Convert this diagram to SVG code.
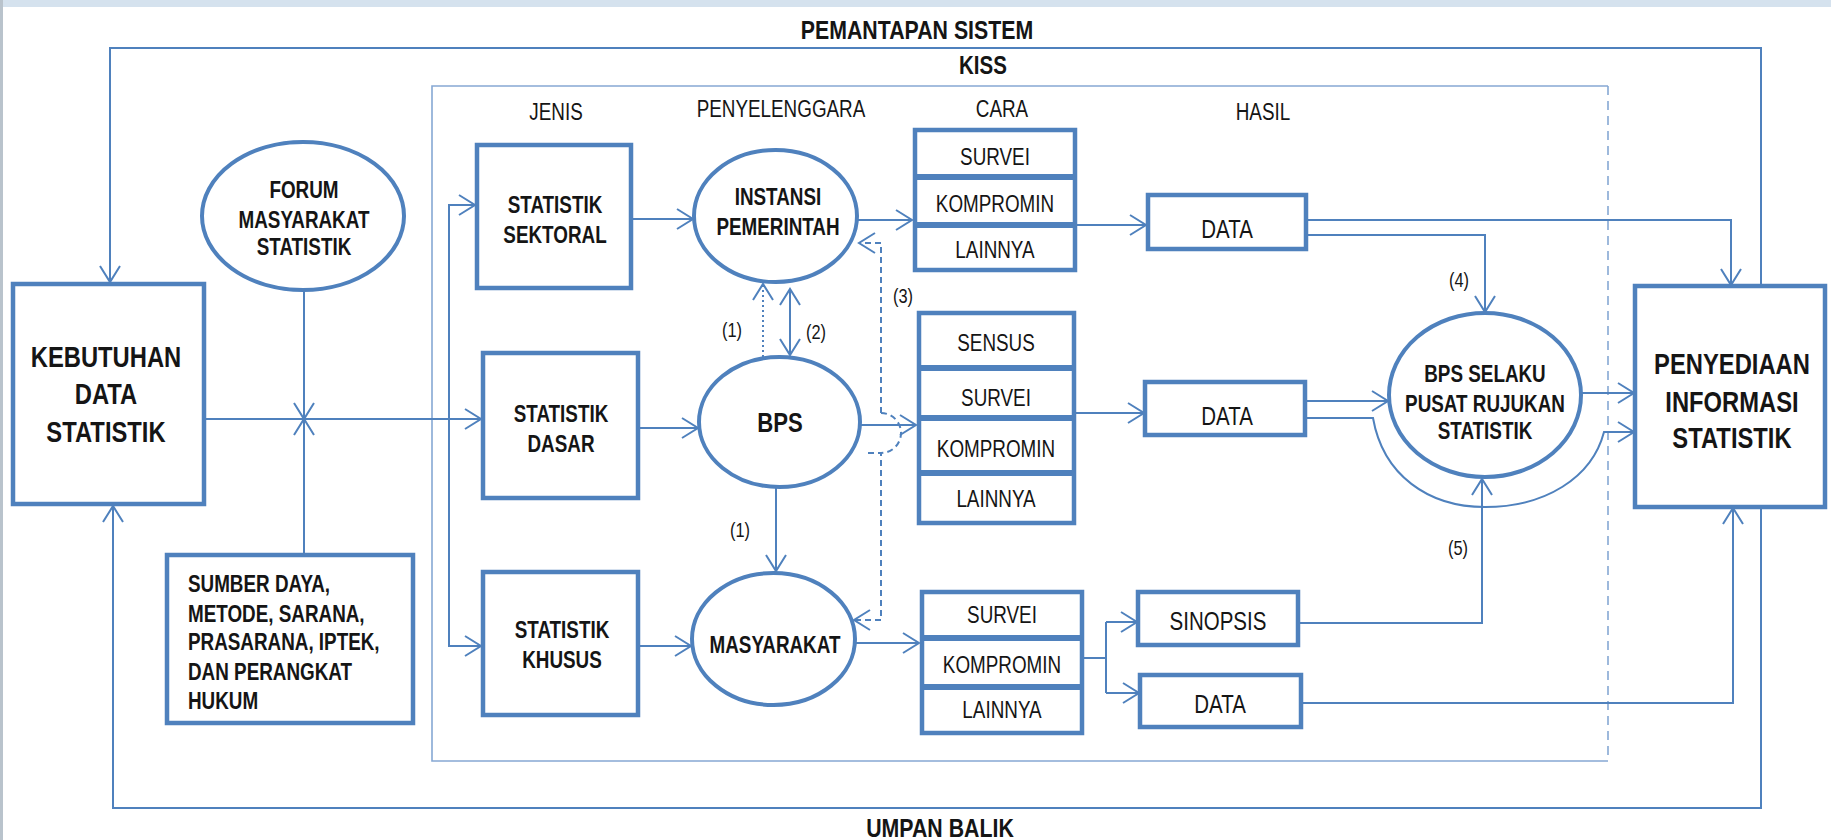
<svg xmlns="http://www.w3.org/2000/svg" width="1831" height="840" viewBox="0 0 1831 840">
<style>
.bx{fill:#fff;stroke:#4F81BD;stroke-width:4.5}
.el{fill:#fff;stroke:#4F81BD;stroke-width:4}
.dv{stroke:#4F81BD;stroke-width:6}
.ln{fill:none;stroke:#4F81BD;stroke-width:2}
.fr{fill:none;stroke:#86A8D4;stroke-width:1.6}
.dash{fill:none;stroke:#4F81BD;stroke-width:2;stroke-dasharray:6,4}
.dot{fill:none;stroke:#4F81BD;stroke-width:2;stroke-dasharray:2,3}
text{font-family:"Liberation Sans",Arial,sans-serif;fill:#151515;transform-box:fill-box;transform-origin:center;transform:scaleX(0.82)}
.b{font-weight:bold}
.c{text-anchor:middle}
.l{transform-origin:left center}
</style>
<defs>
<marker id="arr" markerUnits="userSpaceOnUse" markerWidth="22" markerHeight="24" refX="18" refY="12" orient="auto">
<path d="M2,2 L18,12 L2,22" fill="none" stroke="#4F81BD" stroke-width="2"/>
</marker>
<marker id="arr2" markerUnits="userSpaceOnUse" markerWidth="22" markerHeight="24" refX="18" refY="12" orient="auto-start-reverse">
<path d="M2,2 L18,12 L2,22" fill="none" stroke="#4F81BD" stroke-width="2"/>
</marker>
</defs>
<rect x="0" y="0" width="1831" height="840" fill="#fff"/>
<rect x="0" y="0" width="1831" height="7" fill="#D5E2EE"/>
<rect x="0" y="0" width="3" height="840" fill="#B9C3CC"/>

<g id="frame">
<path class="fr" d="M1608,86 L432,86 L432,761 L1608,761"/>
<path class="fr" d="M1608,86 L1608,761" stroke-dasharray="9,6"/>
</g>

<g id="titles">
<text class="b c" x="917" y="39" font-size="26">PEMANTAPAN SISTEM</text>
<text class="b c" x="983" y="74" font-size="25">KISS</text>
<text class="b c" x="940" y="837" font-size="26">UMPAN BALIK</text>
<text class="c" x="556" y="120" font-size="23">JENIS</text>
<text class="c" x="781" y="117" font-size="23">PENYELENGGARA</text>
<text class="c" x="1002" y="117" font-size="23">CARA</text>
<text class="c" x="1263" y="120" font-size="23">HASIL</text>
</g>

<g id="connectors">
<path class="ln" d="M1761,286 L1761,48 L110,48 L110,282" marker-end="url(#arr)"/>
<path class="ln" d="M1761,507 L1761,808 L113,808 L113,506" marker-end="url(#arr)"/>
<path class="ln" d="M304,290 L304,419" marker-end="url(#arr)"/>
<path class="ln" d="M304,555 L304,419" marker-end="url(#arr)"/>
<path class="ln" d="M204,419 L481,419" marker-end="url(#arr)"/>
<path class="ln" d="M449,419 L449,205 L475,205" marker-end="url(#arr)"/>
<path class="ln" d="M449,419 L449,646 L481,646" marker-end="url(#arr)"/>
<path class="ln" d="M631,219 L693,219" marker-end="url(#arr)"/>
<path class="ln" d="M638,428 L698,428" marker-end="url(#arr)"/>
<path class="ln" d="M638,646 L691,646" marker-end="url(#arr)"/>
<path class="ln" d="M857,220 L912,220" marker-end="url(#arr)"/>
<path class="ln" d="M860,425 L916,425" marker-end="url(#arr)"/>
<path class="ln" d="M855,643 L919,643" marker-end="url(#arr)"/>
<path class="dot" d="M763,357 L763,284" marker-end="url(#arr)"/>
<path class="ln" d="M790,289 L790,355" marker-start="url(#arr2)" marker-end="url(#arr2)"/>
<path class="ln" d="M776,488 L776,571" marker-end="url(#arr)"/>
<path class="dash" d="M881,413 L881,243 L859,243" marker-end="url(#arr)"/>
<path class="dash" d="M881,413 A20,20 0 0 1 881,453"/>
<path class="dash" d="M868,453 L881,453 L881,620 L854,620" marker-end="url(#arr)"/>
<path class="ln" d="M1075,225 L1146,225" marker-end="url(#arr)"/>
<path class="ln" d="M1074,413 L1144,413" marker-end="url(#arr)"/>
<path class="ln" d="M1082,658 L1106,658 M1106,622 L1106,693"/>
<path class="ln" d="M1106,622 L1137,622" marker-end="url(#arr)"/>
<path class="ln" d="M1106,693 L1139,693" marker-end="url(#arr)"/>
<path class="ln" d="M1306,220 L1731,220 L1731,285" marker-end="url(#arr)"/>
<path class="ln" d="M1306,235 L1485,235 L1485,312" marker-end="url(#arr)"/>
<path class="ln" d="M1305,401 L1388,401" marker-end="url(#arr)"/>
<path class="ln" d="M1305,418 L1373,418 C1383,475 1428,507 1485,507 C1545,507 1592,478 1604,432 L1634,432" marker-end="url(#arr)"/>
<path class="ln" d="M1582,393 L1634,393" marker-end="url(#arr)"/>
<path class="ln" d="M1298,623 L1482,623 L1482,479" marker-end="url(#arr)"/>
<path class="ln" d="M1301,703 L1733,703 L1733,508" marker-end="url(#arr)"/>
</g>

<g id="labels">
<text class="c" x="732" y="337" font-size="20">(1)</text>
<text class="c" x="816" y="339" font-size="20">(2)</text>
<text class="c" x="903" y="303" font-size="20">(3)</text>
<text class="c" x="740" y="537" font-size="20">(1)</text>
<text class="c" x="1459" y="287" font-size="20">(4)</text>
<text class="c" x="1458" y="555" font-size="20">(5)</text>
</g>

<g id="kebutuhan">
<rect class="bx" x="13" y="284" width="191" height="220"/>
<text class="b c" x="106" y="367" font-size="29">KEBUTUHAN</text>
<text class="b c" x="106" y="404" font-size="29">DATA</text>
<text class="b c" x="106" y="442" font-size="29">STATISTIK</text>
</g>

<g id="forum">
<ellipse class="el" cx="303" cy="216" rx="101" ry="74"/>
<text class="b c" x="304" y="198" font-size="23">FORUM</text>
<text class="b c" x="304" y="228" font-size="23">MASYARAKAT</text>
<text class="b c" x="304" y="255" font-size="23">STATISTIK</text>
</g>

<g id="sumber">
<rect class="bx" x="167" y="555" width="246" height="168"/>
<text class="b l" x="188" y="592" font-size="23">SUMBER DAYA,</text>
<text class="b l" x="188" y="622" font-size="23">METODE, SARANA,</text>
<text class="b l" x="188" y="650" font-size="23">PRASARANA, IPTEK,</text>
<text class="b l" x="188" y="680" font-size="23">DAN PERANGKAT</text>
<text class="b l" x="188" y="709" font-size="23">HUKUM</text>
</g>

<g id="sektoral">
<rect class="bx" x="477" y="145" width="154" height="143"/>
<text class="b c" x="555" y="213" font-size="23">STATISTIK</text>
<text class="b c" x="555" y="243" font-size="23">SEKTORAL</text>
</g>
<g id="dasar">
<rect class="bx" x="483" y="353" width="155" height="145"/>
<text class="b c" x="561" y="422" font-size="23">STATISTIK</text>
<text class="b c" x="561" y="452" font-size="23">DASAR</text>
</g>
<g id="khusus">
<rect class="bx" x="483" y="572" width="155" height="143"/>
<text class="b c" x="562" y="638" font-size="23">STATISTIK</text>
<text class="b c" x="562" y="668" font-size="23">KHUSUS</text>
</g>

<g id="instansi">
<ellipse class="el" cx="775.5" cy="216" rx="81.5" ry="66"/>
<text class="b c" x="778" y="205" font-size="23">INSTANSI</text>
<text class="b c" x="778" y="235" font-size="23">PEMERINTAH</text>
</g>
<g id="bps">
<ellipse class="el" cx="779.5" cy="422" rx="80.5" ry="65"/>
<text class="b c" x="780" y="432" font-size="27">BPS</text>
</g>
<g id="masyarakat">
<ellipse class="el" cx="773.5" cy="639" rx="81.5" ry="66"/>
<text class="b c" x="775" y="653" font-size="23">MASYARAKAT</text>
</g>

<g id="cara1">
<rect class="bx" x="915" y="130" width="160" height="140"/>
<line class="dv" x1="915" y1="177" x2="1075" y2="177"/>
<line class="dv" x1="915" y1="225" x2="1075" y2="225"/>
<text class="c" x="995" y="165" font-size="23">SURVEI</text>
<text class="c" x="995" y="212" font-size="23">KOMPROMIN</text>
<text class="c" x="995" y="258" font-size="23">LAINNYA</text>
</g>
<g id="cara2">
<rect class="bx" x="919" y="313" width="155" height="210"/>
<line class="dv" x1="919" y1="368" x2="1076" y2="368"/>
<line class="dv" x1="919" y1="418" x2="1074" y2="418"/>
<line class="dv" x1="919" y1="473" x2="1076" y2="473"/>
<text class="c" x="996" y="351" font-size="23">SENSUS</text>
<text class="c" x="996" y="406" font-size="23">SURVEI</text>
<text class="c" x="996" y="457" font-size="23">KOMPROMIN</text>
<text class="c" x="996" y="507" font-size="23">LAINNYA</text>
</g>
<g id="cara3">
<rect class="bx" x="922" y="592" width="160" height="141"/>
<line class="dv" x1="922" y1="638" x2="1082" y2="638"/>
<line class="dv" x1="922" y1="687" x2="1082" y2="687"/>
<text class="c" x="1002" y="623" font-size="23">SURVEI</text>
<text class="c" x="1002" y="673" font-size="23">KOMPROMIN</text>
<text class="c" x="1002" y="718" font-size="23">LAINNYA</text>
</g>

<g id="data1">
<rect class="bx" x="1148" y="195" width="158" height="54"/>
<text class="c" x="1227" y="238" font-size="25">DATA</text>
</g>
<g id="data2">
<rect class="bx" x="1145" y="382" width="160" height="53"/>
<text class="c" x="1227" y="425" font-size="25">DATA</text>
</g>
<g id="sinopsis">
<rect class="bx" x="1138" y="592" width="160" height="53"/>
<text class="c" x="1218" y="630" font-size="25">SINOPSIS</text>
</g>
<g id="data3">
<rect class="bx" x="1140" y="675" width="161" height="52"/>
<text class="c" x="1220" y="713" font-size="25">DATA</text>
</g>

<g id="bpsrujukan">
<ellipse class="el" cx="1485" cy="395" rx="96" ry="82"/>
<text class="b c" x="1485" y="382" font-size="23">BPS SELAKU</text>
<text class="b c" x="1485" y="412" font-size="23">PUSAT RUJUKAN</text>
<text class="b c" x="1485" y="439" font-size="23">STATISTIK</text>
</g>

<g id="penyediaan">
<rect class="bx" x="1635" y="286" width="190" height="221"/>
<text class="b c" x="1732" y="374" font-size="29">PENYEDIAAN</text>
<text class="b c" x="1732" y="412" font-size="29">INFORMASI</text>
<text class="b c" x="1732" y="448" font-size="29">STATISTIK</text>
</g>
</svg>
